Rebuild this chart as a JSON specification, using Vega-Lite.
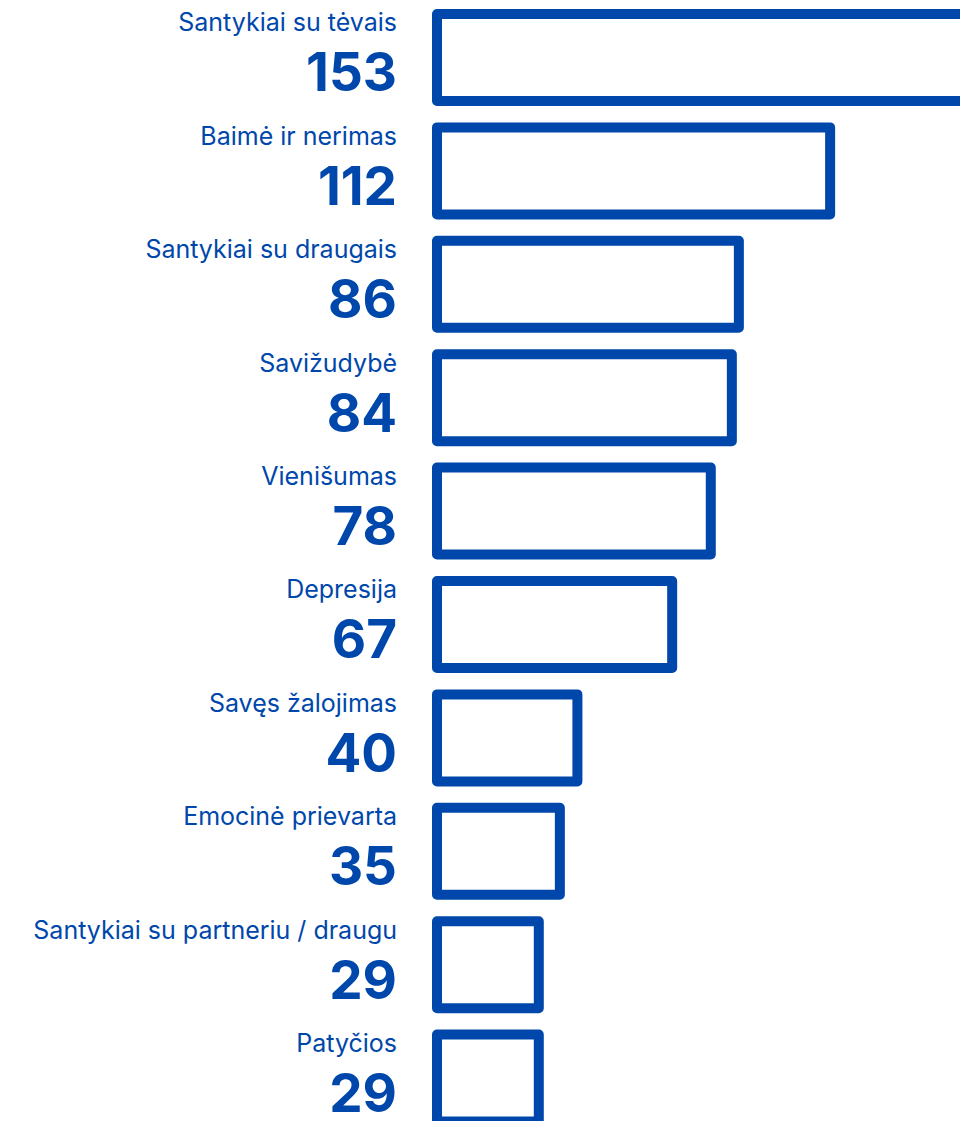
{
  "$schema": "https://vega.github.io/schema/vega-lite/v6.json",
  "autosize": "none",
  "width": 523,
  "height": 1107.6,
  "padding": {"left": 437, "top": 14, "right": 0, "bottom": 0},
  "background": "white",
  "config": {"view": {"stroke": null}},
  "data": {
    "values": [
      {"tema": "Santykiai su tėvais", "n": 153},
      {"tema": "Baimė ir nerimas", "n": 112},
      {"tema": "Santykiai su draugais", "n": 86},
      {"tema": "Savižudybė", "n": 84},
      {"tema": "Vienišumas", "n": 78},
      {"tema": "Depresija", "n": 67},
      {"tema": "Savęs žalojimas", "n": 40},
      {"tema": "Emocinė prievarta", "n": 35},
      {"tema": "Santykiai su partneriu / draugu", "n": 29},
      {"tema": "Patyčios", "n": 29}
    ]
  },
  "encoding": {
    "y": {
      "field": "tema",
      "type": "nominal",
      "sort": null,
      "axis": null,
      "scale": {"paddingInner": 0.233, "paddingOuter": 0}
    }
  },
  "layer": [
    {
      "mark": {"type": "bar", "fill": "white", "stroke": "#0047AB", "strokeWidth": 10, "strokeJoin": "round"},
      "encoding": {
        "x": {"field": "n", "type": "quantitative", "axis": null, "scale": {"domain": [0, 149], "nice": false, "zero": true}}
      }
    },
    {
      "mark": {"type": "text", "align": "right", "baseline": "alphabetic", "dx": -40, "dy": -26, "font": "Inter", "fontSize": 25, "color": "#0047AB"},
      "encoding": {
        "x": {"datum": 0, "type": "quantitative"},
        "text": {"field": "tema"}
      }
    },
    {
      "mark": {"type": "text", "align": "right", "baseline": "alphabetic", "dx": -40, "dy": 34, "font": "Inter", "fontSize": 53, "fontWeight": "bold", "color": "#0047AB"},
      "encoding": {
        "x": {"datum": 0, "type": "quantitative"},
        "text": {"field": "n", "type": "quantitative"}
      }
    }
  ]
}
